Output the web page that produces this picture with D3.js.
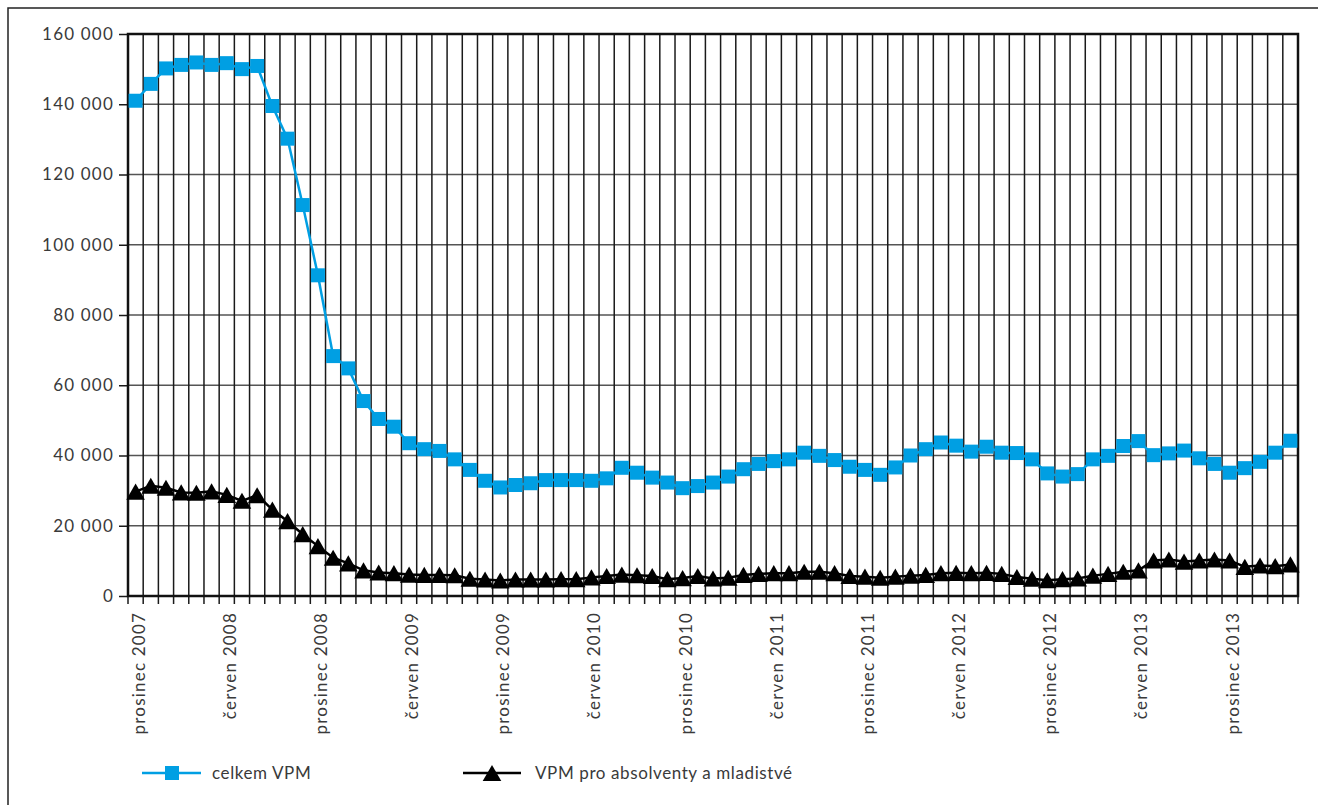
<!DOCTYPE html>
<html>
<head>
<meta charset="utf-8">
<script src="https://cdn.jsdelivr.net/npm/d3@7"></script>
<style>
	body { margin: 0; background: #fff; }
	svg text { font-family: Lato, "Open Sans", sans-serif; font-weight: 400; fill: #3a3a3a; }
</style>
</head>
<body>
<svg id="chart" width="1318" height="805"></svg>
<script>
// month names (Czech) and the first month of the series
var monthNames = ['leden', 'únor', 'březen', 'duben', 'květen', 'červen',
                  'červenec', 'srpen', 'září', 'říjen', 'listopad', 'prosinec'],
    startMonth = 11, // prosinec
    startYear  = 2007;

// celkem VPM, one value per month from prosinec 2007
var celkemVPM = [
	141000, 145800, 150200, 151200, 151900, 151200, 151700, 150000, 150900, 139500,
	130200, 111300, 91300, 68300, 64800, 55500, 50400, 48200, 43500, 41800,
	41300, 38900, 35900, 32800, 30900, 31600, 32100, 33000, 33000, 33000,
	32800, 33500, 36500, 35100, 33700, 32300, 30700, 31300, 32300, 34000,
	36100, 37600, 38400, 38900, 40800, 39900, 38700, 36800, 35900, 34500,
	36600, 40000, 41800, 43700, 42800, 41100, 42500, 40800, 40700, 38900,
	34900, 34000, 34700, 38900, 39900, 42700, 44100, 40100, 40600, 41400,
	39200, 37600, 35100, 36400, 38200, 40800, 44200
];

// VPM pro absolventy a mladistvé
var absolventiVPM = [
	29700, 31400, 30800, 29500, 29400, 29800, 28800, 27100, 28700, 24600,
	21300, 17600, 14200, 10900, 9300, 7300, 6700, 6500, 6100, 6000,
	6000, 5900, 4900, 4700, 4400, 4700, 4700, 4700, 4800, 4800,
	5300, 5700, 6100, 5900, 5700, 4800, 5100, 5700, 5000, 5200,
	6000, 6300, 6500, 6500, 6900, 6900, 6500, 5700, 5500, 5200,
	5500, 5800, 6000, 6500, 6600, 6500, 6600, 6300, 5400, 4900,
	4500, 4800, 5000, 5800, 6300, 6900, 7300, 10100, 10400, 9800,
	10100, 10400, 10100, 8300, 8700, 8500, 9000
];

var yTicks = [0, 20000, 40000, 60000, 80000, 100000, 120000, 140000, 160000];

var legendLabels = ['celkem VPM', 'VPM pro absolventy a mladistvé'];

// category labels built from the month list
var categories = celkemVPM.map(function(d, i){
	var m = (startMonth + i) % 12,
	    yr = startYear + Math.floor((startMonth + i) / 12);
	return monthNames[m] + ' ' + yr;
});

var svg = d3.select('#chart');

var plotLeft   = 128,
    plotRight  = 1298,
    plotTop    = 34,
    plotBottom = 596,
    blue       = '#009fe3',
    triSize    = 150,
    // d3's triangle sits on its centroid; shift it so the box is centred on the point
    triShift   = Math.sqrt(triSize * Math.sqrt(3)) / 6;

var x = d3.scaleBand()
	.domain(categories)
	.range([plotLeft, plotRight])
	.paddingInner(0)
	.paddingOuter(0);

var y = d3.scaleLinear()
	.domain([0, 160000])
	.range([plotBottom, plotTop]);

var fmt = d3.formatLocale({ decimal: ',', thousands: ' ', grouping: [3], currency: ['', ''] }).format(',');

// outer frame
svg.append('rect')
	.attr('x', 8).attr('y', 8)
	.attr('width', 1330).attr('height', 820)
	.attr('fill', 'none')
	.attr('stroke', '#222')
	.attr('stroke-width', 1.5);

// horizontal grid
svg.append('g')
	.selectAll('line')
	.data(yTicks.slice(1))
	.enter()
	.append('line')
	.attr('x1', plotLeft).attr('x2', plotRight)
	.attr('y1', function(d){ return y(d); })
	.attr('y2', function(d){ return y(d); })
	.attr('stroke', '#555')
	.attr('stroke-width', 1.5);

// vertical grid at category boundaries, running down as ticks
svg.append('g')
	.selectAll('line')
	.data(categories.slice(1))
	.enter()
	.append('line')
	.attr('x1', function(d){ return x(d); })
	.attr('x2', function(d){ return x(d); })
	.attr('y1', plotTop).attr('y2', plotBottom + 8)
	.attr('stroke', '#1a1a1a')
	.attr('stroke-width', 1.5);

// y axis
var yAxis = svg.append('g')
	.attr('transform', 'translate(' + plotLeft + ',0)')
	.call(d3.axisLeft(y).tickValues(yTicks).tickSize(9).tickPadding(5).tickFormat(fmt));

yAxis.select('.domain').remove();
yAxis.selectAll('line').attr('stroke', '#1a1a1a').attr('stroke-width', 1.5);
yAxis.selectAll('text')
	.attr('fill', null)
	.style('font-size', '17px')
	.style('letter-spacing', '1.2px');
yAxis.attr('font-family', null).attr('font-size', null);

// x tick labels (every half year)
svg.append('g')
	.selectAll('text')
	.data(categories.filter(function(d, i){ return i % 6 === 0; }))
	.enter()
	.append('text')
	.attr('transform', function(d){
		return 'translate(' + (x(d) + x.bandwidth() / 2 + 3) + ',612) rotate(-90)';
	})
	.attr('dy', '0.35em')
	.attr('text-anchor', 'end')
	.style('font-size', '17px')
	.style('letter-spacing', '1.2px')
	.text(function(d){ return d; });

// edge ticks under the axis
svg.append('g')
	.selectAll('line')
	.data([plotLeft, plotRight])
	.enter()
	.append('line')
	.attr('x1', function(d){ return d; })
	.attr('x2', function(d){ return d; })
	.attr('y1', plotBottom).attr('y2', plotBottom + 8)
	.attr('stroke', '#1a1a1a')
	.attr('stroke-width', 1.5);

// plot border
svg.append('rect')
	.attr('x', plotLeft).attr('y', plotTop)
	.attr('width', plotRight - plotLeft).attr('height', plotBottom - plotTop)
	.attr('fill', 'none')
	.attr('stroke', '#111')
	.attr('stroke-width', 2.5);

function cx(i){ return x(categories[i]) + x.bandwidth() / 2; }

var line = d3.line()
	.x(function(d, i){ return cx(i); })
	.y(function(d){ return y(d); });

var triangle = d3.symbol().type(d3.symbolTriangle).size(triSize);

// black series
svg.append('path')
	.datum(absolventiVPM)
	.attr('d', line)
	.attr('fill', 'none')
	.attr('stroke', '#000')
	.attr('stroke-width', 2.5);

svg.append('g')
	.selectAll('path')
	.data(absolventiVPM)
	.enter()
	.append('path')
	.attr('d', triangle)
	.attr('transform', function(d, i){ return 'translate(' + cx(i) + ',' + (y(d) + triShift) + ')'; })
	.attr('fill', '#000');

// blue series
svg.append('path')
	.datum(celkemVPM)
	.attr('d', line)
	.attr('fill', 'none')
	.attr('stroke', blue)
	.attr('stroke-width', 2.5);

svg.append('g')
	.selectAll('rect')
	.data(celkemVPM)
	.enter()
	.append('rect')
	.attr('x', function(d, i){ return cx(i) - 7; })
	.attr('y', function(d){ return y(d) - 7; })
	.attr('width', 14).attr('height', 14)
	.attr('fill', blue);

// legend
var legend = svg.append('g');

legend.append('line')
	.attr('x1', 142).attr('x2', 201).attr('y1', 773).attr('y2', 773)
	.attr('stroke', blue).attr('stroke-width', 2.5);
legend.append('rect')
	.attr('x', 165).attr('y', 766).attr('width', 14).attr('height', 14)
	.attr('fill', blue);
legend.append('text')
	.attr('x', 212).attr('y', 779)
	.style('font-size', '17px')
	.style('letter-spacing', '0.6px')
	.text(legendLabels[0]);

legend.append('line')
	.attr('x1', 463).attr('x2', 521).attr('y1', 773).attr('y2', 773)
	.attr('stroke', '#000').attr('stroke-width', 2.5);
legend.append('path')
	.attr('d', triangle)
	.attr('transform', 'translate(492,' + (773 + triShift) + ')')
	.attr('fill', '#000');
legend.append('text')
	.attr('x', 535).attr('y', 779)
	.style('font-size', '17px')
	.style('letter-spacing', '0.6px')
	.text(legendLabels[1]);
</script>
</body>
</html>
